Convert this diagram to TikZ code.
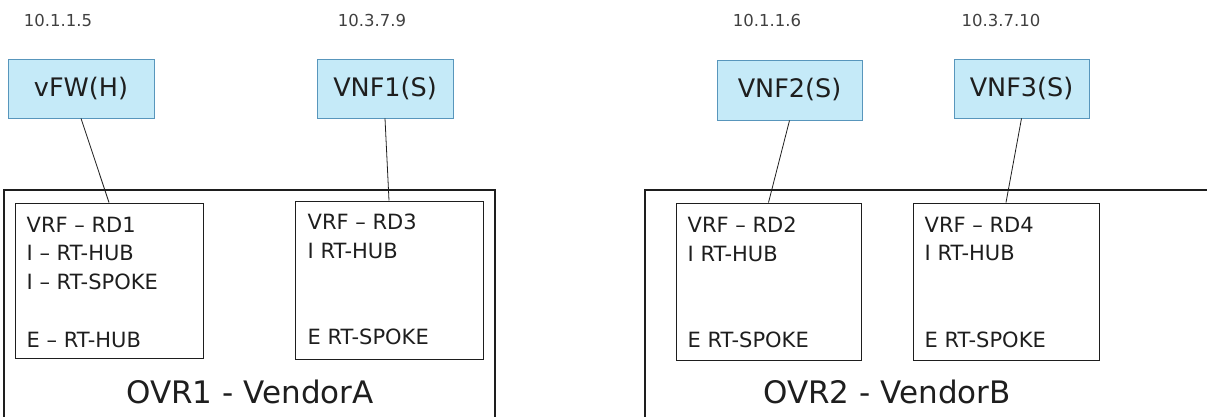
\documentclass[tikz,border=0pt]{standalone}
\usepackage{fontspec}
\setmainfont{DejaVu Sans}
\definecolor{vnffill}{RGB}{197,234,248}
\definecolor{vnfdraw}{RGB}{88,150,188}
\definecolor{ink}{RGB}{30,30,30}
\tikzset{
  vnf/.style={draw=vnfdraw, fill=vnffill, line width=0.9pt, inner sep=0pt,
    text=ink, font=\fontsize{25.5}{30}\selectfont},
  ip/.style={text=ink!85, font=\fontsize{16.5}{20}\selectfont, inner sep=0pt},
  vrfbox/.style={draw=ink, line width=1pt, inner sep=0pt},
  vrftext/.style={anchor=north west, align=left, inner sep=0pt, text=ink,
    font=\fontsize{21}{28.8}\selectfont},
  overlay/.style={draw=ink, line width=1.2pt},
  ovrlabel/.style={text=ink, font=\fontsize{31}{36}\selectfont, inner sep=0pt},
  link/.style={draw=ink, line width=0.8pt}
}
\begin{document}
\begin{tikzpicture}[x=1pt, y=-1pt]
  \useasboundingbox (0,0) rectangle (1207,416);
  \clip (0,0) rectangle (1207,416);

  % overlay domains (run off the lower and right edges)
  \draw[overlay] (4,430) -- (4,190) -- (495,190) -- (495,430);
  \draw[overlay] (645,430) -- (645,190) -- (1230,190);
  \node[ovrlabel] (ovr1) at (250,392) {OVR1 - VendorA};
  \node[ovrlabel] (ovr2) at (887,392) {OVR2 - VendorB};

  % addresses
  \node[ip] (ip1) at (58,20) {10.1.1.5};
  \node[ip] (ip2) at (372,20) {10.3.7.9};
  \node[ip] (ip3) at (767,20) {10.1.1.6};
  \node[ip] (ip4) at (1001,20) {10.3.7.10};

  % network functions
  \node[vnf, minimum width=146pt, minimum height=59pt] (vfw)  at (81,88.5)   {vFW(H)};
  \node[vnf, minimum width=136pt, minimum height=59pt] (vnf1) at (385,88.5)  {VNF1(S)};
  \node[vnf, minimum width=145pt, minimum height=60pt] (vnf2) at (789.5,90)  {VNF2(S)};
  \node[vnf, minimum width=135pt, minimum height=59pt] (vnf3) at (1021.5,88.5) {VNF3(S)};

  % VRF boxes
  \node[vrfbox, minimum width=188pt, minimum height=155pt] (rd1) at (109,280.5) {};
  \node[vrfbox, minimum width=188pt, minimum height=158pt] (rd3) at (389,280) {};
  \node[vrfbox, minimum width=185pt, minimum height=157pt] (rd2) at (768.5,281.5) {};
  \node[vrfbox, minimum width=186pt, minimum height=157pt] (rd4) at (1006,281.5) {};

  \node[vrftext] (t1) at ([xshift=12pt, yshift=-14pt]rd1.north west)
    {VRF – RD1\\I – RT-HUB\\I – RT-SPOKE\\\mbox{}\\E – RT-HUB};
  \node[vrftext] (t3) at ([xshift=13pt, yshift=-13pt]rd3.north west)
    {VRF – RD3\\I RT-HUB\\\mbox{}\\\mbox{}\\E RT-SPOKE};
  \node[vrftext] (t2) at ([xshift=12pt, yshift=-14pt]rd2.north west)
    {VRF – RD2\\I RT-HUB\\\mbox{}\\\mbox{}\\E RT-SPOKE};
  \node[vrftext] (t4) at ([xshift=12pt, yshift=-14pt]rd4.north west)
    {VRF – RD4\\I RT-HUB\\\mbox{}\\\mbox{}\\E RT-SPOKE};

  % attachments
  \draw[link] (vfw.south)  -- (rd1.north);
  \draw[link] (vnf1.south) -- (rd3.north);
  \draw[link] (vnf2.south) -- (rd2.north);
  \draw[link] (vnf3.south) -- (rd4.north);
\end{tikzpicture}
\end{document}
